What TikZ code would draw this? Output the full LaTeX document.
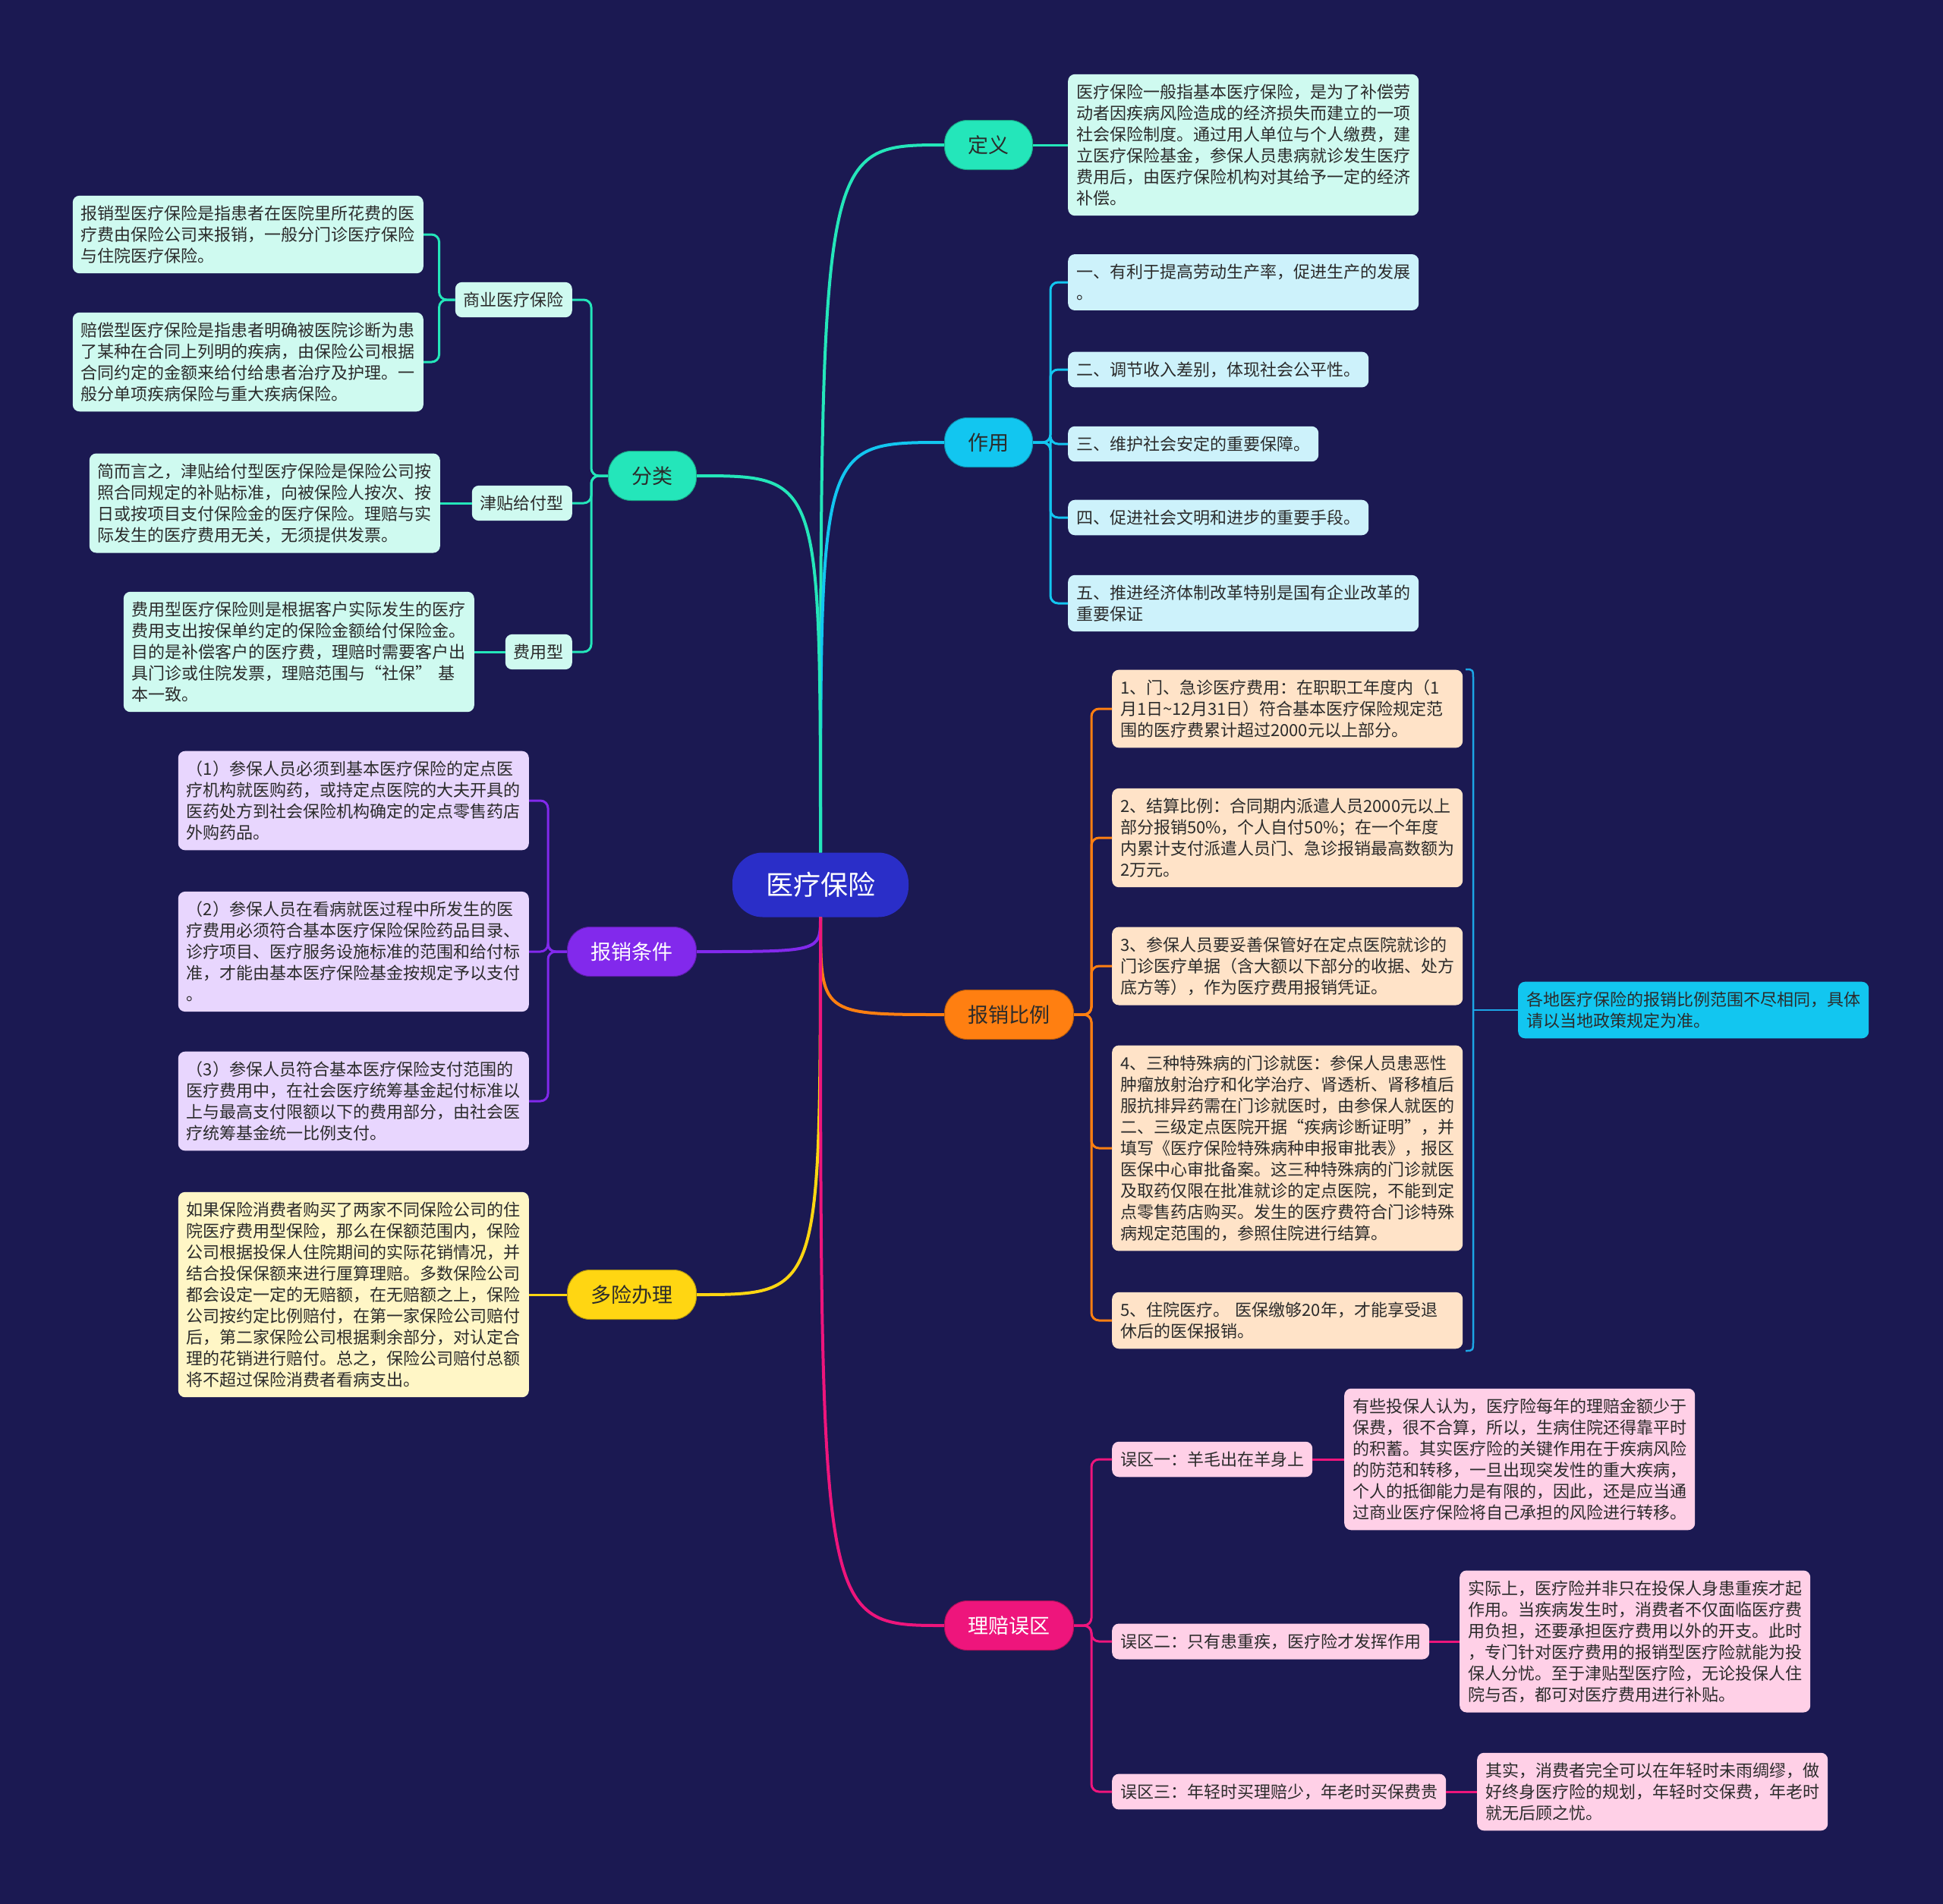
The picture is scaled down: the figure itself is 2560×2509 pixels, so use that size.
\documentclass[tikz,border=0pt]{standalone}
\usepackage{fontspec}
\setmainfont{Noto Sans CJK SC}
\usepackage{tikz}
\usetikzlibrary{positioning,calc}
\definecolor{bgnavy}{HTML}{1B1952}
\definecolor{rootblue}{HTML}{2A2EC8}
\definecolor{mint}{HTML}{24E6BA}
\definecolor{mintpale}{HTML}{CFFAF0}
\definecolor{sky}{HTML}{12C6F0}
\definecolor{skypale}{HTML}{CDF2FB}
\definecolor{tangerine}{HTML}{FF7F11}
\definecolor{tangerinepale}{HTML}{FFE3C8}
\definecolor{rose}{HTML}{EE157C}
\definecolor{rosepale}{HTML}{FFD0E7}
\definecolor{brvio}{HTML}{8229EC}
\definecolor{briopale}{HTML}{E8D6FE}
\definecolor{gold}{HTML}{FFD612}
\definecolor{goldpale}{HTML}{FFF6C6}
\definecolor{sumblue}{HTML}{1CA6E6}
\definecolor{inkdark}{HTML}{2B2B2B}
\newcommand\leaffont{\fontsize{22}{28}\selectfont}
\newcommand\branchfont{\fontsize{27}{32}\selectfont}
\newcommand\rootfont{\fontsize{36}{42}\selectfont}
\tikzset{
  rootnode/.style={
    fill=rootblue, text=white, rounded corners=40pt,
    minimum height=85pt, inner xsep=44pt, font=\rootfont,
  },
  branch/.style={
    fill=#1, draw=#1!70!black, line width=1pt, rounded corners=30pt,
    minimum height=65pt, inner xsep=31pt, font=\branchfont, text=inkdark,
  },
  leaf/.style={
    fill=#1, rounded corners=9pt, font=\leaffont, text=inkdark,
    align=left, inner xsep=11pt, inner ysep=13pt,
  },
  widebox/.style={text width=440pt},
  trunk/.style={draw=#1, line width=4pt},
  twig/.style={draw=#1, line width=3pt, rounded corners=10pt},
  sumline/.style={draw=sumblue, line width=2.5pt},
}
\begin{document}
\begin{tikzpicture}[x=1pt,y=-1pt]

  \fill[bgnavy] (0,0) rectangle (2560,2509);
  \useasboundingbox (0,0) rectangle (2560,2509);

  \node[rootnode] (root) at (1081,1166) {医疗保险};

  % right side
  \node[branch=mint, anchor=west] (dingyi) at (1244,191) {定义};
  \node[branch=sky, anchor=west] (zuoyong) at (1244,583) {作用};
  \node[branch=tangerine, anchor=west] (bili) at (1244,1337) {报销比例};
  \node[branch=rose, anchor=west, text=white] (wuqu) at (1244,2142) {理赔误区};

  % left side
  \node[branch=mint, anchor=east] (fenlei) at (918,627) {分类};
  \node[branch=brvio, anchor=east, text=white] (tiaojian) at (918,1254) {报销条件};
  \node[branch=gold, anchor=east] (duoxian) at (918,1706) {多险办理};

  \node[leaf=mintpale, widebox, anchor=west] (dingyitxt) at (1407,191)
    {医疗保险一般指基本医疗保险，是为了补偿劳\\动者因疾病风险造成的经济损失而建立的一项\\社会保险制度。通过用人单位与个人缴费，建\\立医疗保险基金，参保人员患病就诊发生医疗\\费用后，由医疗保险机构对其给予一定的经济\\补偿。};

  \node[leaf=skypale, widebox, anchor=west] (zy1) at (1407,372)
    {一、有利于提高劳动生产率，促进生产的发展\\。};
  \node[leaf=skypale, anchor=west] (zy2) at (1407,487) {二、调节收入差别，体现社会公平性。};
  \node[leaf=skypale, anchor=west] (zy3) at (1407,585) {三、维护社会安定的重要保障。};
  \node[leaf=skypale, anchor=west] (zy4) at (1407,682) {四、促进社会文明和进步的重要手段。};
  \node[leaf=skypale, widebox, anchor=west] (zy5) at (1407,795)
    {五、推进经济体制改革特别是国有企业改革的\\重要保证};

  \node[leaf=mintpale, anchor=east] (shangye) at (754,395) {商业医疗保险};
  \node[leaf=mintpale, anchor=east] (jintie) at (754,663) {津贴给付型};
  \node[leaf=mintpale, anchor=east] (feiyong) at (754,859) {费用型};

  \node[leaf=mintpale, widebox, anchor=east] (sy1) at (558,309)
    {报销型医疗保险是指患者在医院里所花费的医\\疗费由保险公司来报销，一般分门诊医疗保险\\与住院医疗保险。};
  \node[leaf=mintpale, widebox, anchor=east] (sy2) at (558,477)
    {赔偿型医疗保险是指患者明确被医院诊断为患\\了某种在合同上列明的疾病，由保险公司根据\\合同约定的金额来给付给患者治疗及护理。一\\般分单项疾病保险与重大疾病保险。};
  \node[leaf=mintpale, widebox, anchor=east] (jintietxt) at (580,663)
    {简而言之，津贴给付型医疗保险是保险公司按\\照合同规定的补贴标准，向被保险人按次、按\\日或按项目支付保险金的医疗保险。理赔与实\\际发生的医疗费用无关，无须提供发票。};
  \node[leaf=mintpale, widebox, anchor=east] (feiyongtxt) at (625,859)
    {费用型医疗保险则是根据客户实际发生的医疗\\费用支出按保单约定的保险金额给付保险金。\\目的是补偿客户的医疗费，理赔时需要客户出\\具门诊或住院发票，理赔范围与“社保” 基\\本一致。};

  \node[leaf=briopale, widebox, anchor=east] (tj1) at (697,1055)
    {（1）参保人员必须到基本医疗保险的定点医\\疗机构就医购药，或持定点医院的大夫开具的\\医药处方到社会保险机构确定的定点零售药店\\外购药品。};
  \node[leaf=briopale, widebox, anchor=east] (tj2) at (697,1254)
    {（2）参保人员在看病就医过程中所发生的医\\疗费用必须符合基本医疗保险保险药品目录、\\诊疗项目、医疗服务设施标准的范围和给付标\\准，才能由基本医疗保险基金按规定予以支付\\。};
  \node[leaf=briopale, widebox, anchor=east] (tj3) at (697,1451)
    {（3）参保人员符合基本医疗保险支付范围的\\医疗费用中，在社会医疗统筹基金起付标准以\\上与最高支付限额以下的费用部分，由社会医\\疗统筹基金统一比例支付。};

  \node[leaf=goldpale, widebox, anchor=east] (duoxiantxt) at (697,1706)
    {如果保险消费者购买了两家不同保险公司的住\\院医疗费用型保险，那么在保额范围内，保险\\公司根据投保人住院期间的实际花销情况，并\\结合投保保额来进行厘算理赔。多数保险公司\\都会设定一定的无赔额，在无赔额之上，保险\\公司按约定比例赔付，在第一家保险公司赔付\\后，第二家保险公司根据剩余部分，对认定合\\理的花销进行赔付。总之，保险公司赔付总额\\将不超过保险消费者看病支出。};

  \node[leaf=tangerinepale, widebox, anchor=west] (bl1) at (1465,934)
    {1、门、急诊医疗费用：在职职工年度内（1\\月1日\textasciitilde12月31日）符合基本医疗保险规定范\\围的医疗费累计超过2000元以上部分。};
  \node[leaf=tangerinepale, widebox, anchor=west] (bl2) at (1465,1104)
    {2、结算比例：合同期内派遣人员2000元以上\\部分报销50\%，个人自付50\%；在一个年度\\内累计支付派遣人员门、急诊报销最高数额为\\2万元。};
  \node[leaf=tangerinepale, widebox, anchor=west] (bl3) at (1465,1273)
    {3、参保人员要妥善保管好在定点医院就诊的\\门诊医疗单据（含大额以下部分的收据、处方\\底方等），作为医疗费用报销凭证。};
  \node[leaf=tangerinepale, widebox, anchor=west] (bl4) at (1465,1513)
    {4、三种特殊病的门诊就医：参保人员患恶性\\肿瘤放射治疗和化学治疗、肾透析、肾移植后\\服抗排异药需在门诊就医时，由参保人就医的\\二、三级定点医院开据“疾病诊断证明”，并\\填写《医疗保险特殊病种申报审批表》，报区\\医保中心审批备案。这三种特殊病的门诊就医\\及取药仅限在批准就诊的定点医院，不能到定\\点零售药店购买。发生的医疗费符合门诊特殊\\病规定范围的，参照住院进行结算。};
  \node[leaf=tangerinepale, widebox, anchor=west] (bl5) at (1465,1740)
    {5、住院医疗。 医保缴够20年，才能享受退\\休后的医保报销。};

  \node[leaf=sky, widebox, anchor=west] (note) at (2000,1331)
    {各地医疗保险的报销比例范围不尽相同，具体\\请以当地政策规定为准。};

  \node[leaf=rosepale, anchor=west] (wq1) at (1465,1923) {误区一：羊毛出在羊身上};
  \node[leaf=rosepale, anchor=west] (wq2) at (1465,2163) {误区二：只有患重疾，医疗险才发挥作用};
  \node[leaf=rosepale, anchor=west] (wq3) at (1465,2361) {误区三：年轻时买理赔少，年老时买保费贵};

  \node[leaf=rosepale, widebox, anchor=west] (wqt1) at (1771,1923)
    {有些投保人认为，医疗险每年的理赔金额少于\\保费，很不合算，所以，生病住院还得靠平时\\的积蓄。其实医疗险的关键作用在于疾病风险\\的防范和转移，一旦出现突发性的重大疾病，\\个人的抵御能力是有限的，因此，还是应当通\\过商业医疗保险将自己承担的风险进行转移。};
  \node[leaf=rosepale, widebox, anchor=west] (wqt2) at (1923,2163)
    {实际上，医疗险并非只在投保人身患重疾才起\\作用。当疾病发生时，消费者不仅面临医疗费\\用负担，还要承担医疗费用以外的开支。此时\\，专门针对医疗费用的报销型医疗险就能为投\\保人分忧。至于津贴型医疗险，无论投保人住\\院与否，都可对医疗费用进行补贴。};
  \node[leaf=rosepale, widebox, anchor=west] (wqt3) at (1946,2361)
    {其实，消费者完全可以在年轻时未雨绸缪，做\\好终身医疗险的规划，年轻时交保费，年老时\\就无后顾之忧。};

  \coordinate (sumtop) at (1931,882);
  \coordinate (sumbot) at (1931,1780);
  \coordinate (summid) at (1941,1331);

  \draw[trunk=mint] (root.north) .. controls (root.north |- dingyi.west) .. (dingyi.west);
  \draw[trunk=sky] (root.north) .. controls (root.north |- zuoyong.west) .. (zuoyong.west);
  \draw[trunk=mint] (root.north) .. controls (root.north |- fenlei.east) .. (fenlei.east);
  \draw[trunk=brvio] (root.south) .. controls (root.south |- tiaojian.east) .. (tiaojian.east);
  \draw[trunk=gold] (root.south) .. controls (root.south |- duoxian.east) .. (duoxian.east);
  \draw[trunk=tangerine] (root.south) .. controls (root.south |- bili.west) .. (bili.west);
  \draw[trunk=rose] (root.south) .. controls (root.south |- wuqu.west) .. (wuqu.west);

  \draw[twig=mint] (dingyi.east) -- (dingyitxt.west);
  \foreach \k in {1,...,5}
    \draw[twig=sky] (zuoyong.east) -- ++(23,0) |- (zy\k.west);
  \foreach \k in {shangye,jintie,feiyong}
    \draw[twig=mint] (fenlei.west) -- ++(-22,0) |- (\k.east);
  \foreach \k in {sy1,sy2}
    \draw[twig=mint] (shangye.west) -- ++(-21,0) |- (\k.east);
  \draw[twig=mint] (jintie.west) -- (jintietxt.east);
  \draw[twig=mint] (feiyong.west) -- (feiyongtxt.east);
  \foreach \k in {1,2,3}
    \draw[twig=brvio] (tiaojian.west) -- ++(-25,0) |- (tj\k.east);
  \draw[twig=gold] (duoxian.west) -- (duoxiantxt.east);
  \foreach \k in {1,...,5}
    \draw[twig=tangerine] (bili.east) -- ++(23,0) |- (bl\k.west);
  \foreach \k in {1,2,3} {
    \draw[twig=rose] (wuqu.east) -- ++(23,0) |- (wq\k.west);
    \draw[twig=rose] (wq\k.east) -- (wqt\k.west);
  }

  \draw[sumline] (sumtop) .. controls +(10,0) .. ++(10,15)
    -- ($(sumbot)+(10,-15)$) .. controls +(0,15) .. (sumbot);
  \draw[sumline] (summid) -- (note.west);

\end{tikzpicture}
\end{document}
